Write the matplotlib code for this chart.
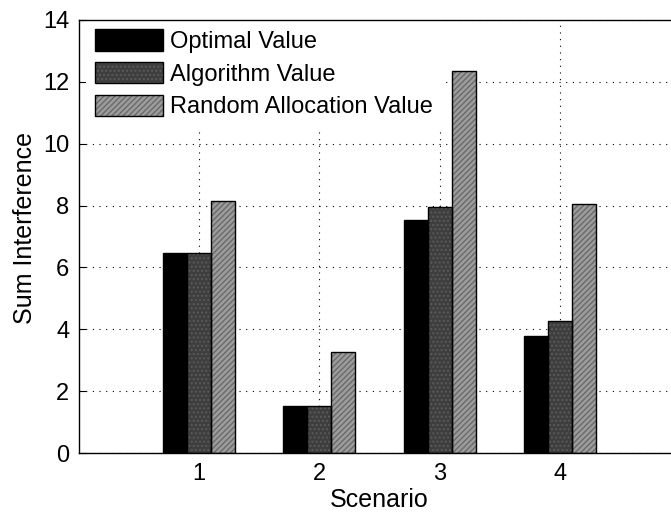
import numpy as np
import matplotlib
matplotlib.use('Agg')
import matplotlib.pyplot as plt
from matplotlib.legend_handler import HandlerTuple

''' data read off the reference '''
scenarios = [1, 2, 3, 4]
optimal   = [6.46, 1.53, 7.52, 3.79]
algorithm = [6.46, 1.53, 7.96, 4.27]
random_al = [8.15, 3.28, 12.36, 8.05]
labels    = ['Optimal Value', 'Algorithm Value', 'Random Allocation Value']

plt.rcParams['font.family'] = ['Liberation Sans', 'DejaVu Sans']
plt.rcParams['font.size'] = 17

W, H = 671, 517
fig = plt.figure(figsize=(W / 100, H / 100), dpi=100)
# axes runs past the right edge, the reference is cropped there
ax = fig.add_axes([79 / W, (H - 453) / H, (680 - 79) / W, (453 - 20) / H])

x = np.array(scenarios)
bw = 0.2
b1 = ax.bar(x - bw, optimal, bw, color='black', edgecolor='black', lw=1.0, zorder=2)
b2 = ax.bar(x, algorithm, bw, color='#3e3e3e', edgecolor='#5a5a5a', lw=0, hatch='....', zorder=2)
b2o = ax.bar(x, algorithm, bw, fill=False, edgecolor='black', lw=1.0, zorder=3)
b3 = ax.bar(x + bw, random_al, bw, color='#9c9c9c', edgecolor='#6a6a6a', lw=0, hatch='//////', zorder=2)
b3o = ax.bar(x + bw, random_al, bw, fill=False, edgecolor='black', lw=1.0, zorder=3)

ax.set_xlim(0, 5)
ax.set_ylim(0, 14)
ax.set_xticks(scenarios)
ax.set_yticks(np.arange(0, 15, 2))
ax.tick_params(direction='in', length=5, width=0.8, pad=7)
ax.grid(True, color='black', linestyle=(0, (1, 5)), linewidth=0.8)
ax.set_axisbelow(True)
for s in ax.spines.values():
    s.set_linewidth(1.0)
    s.set_zorder(6)   # keep the frame above the legend box

ax.set_ylabel('Sum Interference', fontsize=18)
ax.yaxis.set_label_coords((37 - 79) / (680 - 79), (453 - 228) / (453 - 20))
ax.set_xlabel('Scenario', fontsize=18)
ax.xaxis.set_label_coords(0.5, -(488 - 453) / (453 - 20))

handles = [b1[0], (b2[0], b2o[0]), (b3[0], b3o[0])]
leg = ax.legend(handles, labels, loc='upper left', bbox_to_anchor=(7 / 601, 1),
                borderaxespad=0, borderpad=0.4, handlelength=2.85, handleheight=1.0,
                handletextpad=0.3, labelspacing=0.38, fancybox=False,
                framealpha=1, edgecolor='none',
                handler_map={tuple: HandlerTuple(ndivide=1, pad=0)})

fig.savefig('out.png', dpi=100)
